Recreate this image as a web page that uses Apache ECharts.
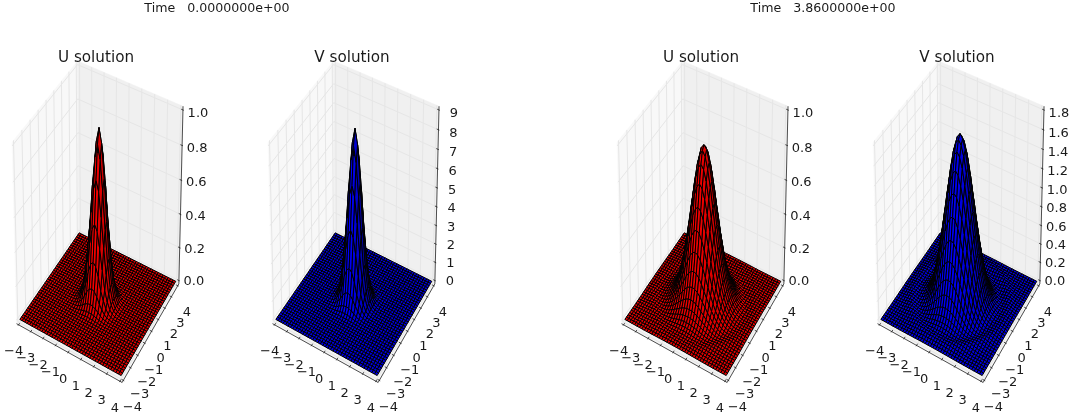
<!DOCTYPE html>
<html><head><meta charset="utf-8">
<style>html,body{margin:0;padding:0;background:#fff}#c{width:1072px;height:417px;filter:blur(0.4px)}</style>
<script src="https://cdn.jsdelivr.net/npm/echarts@6/dist/echarts.min.js"></script>
</head><body><div id="c"></div>
<script>
// ---- data ----
const timeLabels = ['Time   0.0000000e+00', 'Time   3.8600000e+00'];
const titles = ['U solution', 'V solution', 'U solution', 'V solution'];
const xyTicks = [-4, -3, -2, -1, 0, 1, 2, 3, 4];
const xyTickLabels = ['\u22124', '\u22123', '\u22122', '\u22121', '0', '1', '2', '3', '4'];
const uTicks = [0, 0.2, 0.4, 0.6, 0.8, 1.0];
const uTickLabels = ['0.0', '0.2', '0.4', '0.6', '0.8', '1.0'];
const v0Ticks = [0, 1, 2, 3, 4, 5, 6, 7, 8, 9];
const v0TickLabels = ['0', '1', '2', '3', '4', '5', '6', '7', '8', '9'];
const v1Ticks = [0, 0.2, 0.4, 0.6, 0.8, 1.0, 1.2, 1.4, 1.6, 1.8];
const v1TickLabels = ['0.0', '0.2', '0.4', '0.6', '0.8', '1.0', '1.2', '1.4', '1.6', '1.8'];
// surface height against distance from the centre, one sample each 0.2
const radiusStep = 0.2;
const u0Profile = [1.0, 0.92, 0.73, 0.49, 0.28, 0.135, 0.056, 0.02, 0.006, 0.001, 0];
const v0Profile = [8.96, 8.2, 6.3, 4.1, 2.2, 1.0, 0.38, 0.12, 0.03, 0.005, 0];
const u1Axis = [0.905, 0.885, 0.82, 0.72, 0.6, 0.48, 0.365, 0.265, 0.185, 0.125, 0.08, 0.05, 0.03, 0.016, 0.008, 0.004, 0.003, 0.004, 0.005, 0.004, 0.003, 0.002, 0.001, 0];
const u1Diag = [0.905, 0.885, 0.82, 0.72, 0.6, 0.48, 0.365, 0.265, 0.185, 0.125, 0.08, 0.048, 0.026, 0.012, 0.004, 0.001, 0.003, 0.006, 0.007, 0.005, 0.003, 0.002, 0.001, 0];
const v1Axis = [1.74, 1.7, 1.6, 1.43, 1.22, 1.0, 0.78, 0.58, 0.41, 0.27, 0.16, 0.09, 0.05, 0.03, 0.015, 0.012, 0.018, 0.02, 0.015, 0.008, 0.004, 0.002, 0.001, 0];
const v1Diag = [1.74, 1.7, 1.6, 1.43, 1.22, 1.0, 0.78, 0.58, 0.41, 0.27, 0.155, 0.085, 0.04, 0.015, 0.004, 0.006, 0.02, 0.028, 0.022, 0.012, 0.006, 0.003, 0.001, 0];

// ---- panels ----
const panels = [
  { cx: 99,  color: [255, 0, 0], axis: u0Profile, diag: u0Profile, zMax: 1, ticks: uTicks, labels: uTickLabels, titleX: 96 },
  { cx: 355, color: [0, 0, 255], axis: v0Profile, diag: v0Profile, zMax: 9, ticks: v0Ticks, labels: v0TickLabels, titleX: 352 },
  { cx: 704, color: [255, 0, 0], axis: u1Axis, diag: u1Diag, zMax: 1, ticks: uTicks, labels: uTickLabels, titleX: 701 },
  { cx: 960, color: [0, 0, 255], axis: v1Axis, diag: v1Diag, zMax: 1.8, ticks: v1Ticks, labels: v1TickLabels, titleX: 957 }
];
const scaleX = 1170, scaleY = 1990, centreY = 216, halfX = 0.08, halfY = 0.09;
const cells = 40, span = 8;
const FONT = '"DejaVu Sans"', INK = '#1a1a1a';

// view camera: elevation 30, azimuth -60, distance 10
const camU = [0.866, 0.5, 0], camV = [-0.25, 0.433, 0.866], camN = [0.433, -0.75, 0.5];
const dot = (a, b) => a[0] * b[0] + a[1] * b[1] + a[2] * b[2];
function depth(p) { return 10 - dot(camN, [p[0] - 0.5, p[1] - 0.5, p[2] - 0.5]); }
function project(p) {
  const q = [p[0] - 0.5, p[1] - 0.5, p[2] - 0.5], d = depth(p);
  return [dot(camU, q) / d, dot(camV, q) / d];
}
function lookup(arr, r) {
  const t = r / radiusStep, k = Math.floor(t);
  if (k >= arr.length - 1) return arr[arr.length - 1];
  return arr[k] + (arr[k + 1] - arr[k]) * (t - k);
}
function heightAt(pn, X, Y) {
  const r = Math.hypot(X, Y);
  const s = r === 0 ? 0 : 2 * X * Y / (r * r);
  const w = s * s;
  return lookup(pn.axis, r) * (1 - w) + lookup(pn.diag, r) * w;
}
panels.forEach(pn => {
  pn.h = [];
  for (let i = 0; i <= cells; i++) {
    pn.h.push([]);
    for (let j = 0; j <= cells; j++) {
      pn.h[i].push(heightAt(pn, -4 + span * i / cells, -4 + span * j / cells));
    }
  }
});
function vertex(pn, i, j) { return [i / cells, j / cells, pn.h[i][j] / pn.zMax]; }
function cellData(pn) {
  const out = [];
  for (let i = 0; i < cells; i++) for (let j = 0; j < cells; j++) {
    const m = [(i + 0.5) / cells, (j + 0.5) / cells,
      (pn.h[i][j] + pn.h[i + 1][j] + pn.h[i][j + 1] + pn.h[i + 1][j + 1]) / 4 / pn.zMax];
    const q = project(m);
    out.push({ value: [q[0], q[1], i, j], d: depth(m) });
  }
  out.sort((a, b) => b.d - a.d);
  return out.map(o => o.value);
}
const LIGHT = [-1 / 1.5, -1 / 1.5, 0.5 / 1.5];
function shadeOf(pn, i, j) {
  const h = pn.h, dx = span / cells;
  const gx = (h[i + 1][j] + h[i + 1][j + 1] - h[i][j] - h[i][j + 1]) / (2 * dx);
  const gy = (h[i][j + 1] + h[i + 1][j + 1] - h[i][j] - h[i + 1][j]) / (2 * dx);
  const len = Math.sqrt(gx * gx + gy * gy + 1);
  const s = dot([-gx / len, -gy / len, 1 / len], LIGHT);
  return 0.5 + 0.5 * (s + 1) / 2 + 0.05;
}
function surfaceRender(pn) {
  return function (params, api) {
    const i = api.value(2), j = api.value(3);
    const pts = [vertex(pn, i, j), vertex(pn, i + 1, j), vertex(pn, i + 1, j + 1), vertex(pn, i, j + 1)]
      .map(p => api.coord(project(p)));
    const f = Math.min(1, shadeOf(pn, i, j));
    const c = pn.color.map(v => Math.round(v * f));
    return {
      type: 'polygon', silent: true, shape: { points: pts },
      style: { fill: 'rgb(' + c.join(',') + ')', stroke: '#000', lineWidth: 1 }
    };
  };
}
const lo = -1 / 48, hi = 1 + 1 / 48, tickOut = 1 / 120, tickIn = 1 / 60;
const xyn = v => (v + 4) / span;
function frameRender(pn) {
  return function (params, api) {
    const P = p => api.coord(project(p));
    const kids = [];
    const poly = (pts, fill) => kids.push({ type: 'polygon', silent: true, shape: { points: pts.map(P) }, style: { fill: fill, stroke: fill, lineWidth: 0.5 } });
    const line = (a, b, color, w) => {
      const A = P(a), B = P(b);
      kids.push({ type: 'line', silent: true, shape: { x1: A[0], y1: A[1], x2: B[0], y2: B[1] }, style: { stroke: color, lineWidth: w } });
    };
    const text = (a, dx, dy, s) => {
      const A = P(a);
      kids.push({ type: 'text', silent: true, style: { text: s, x: A[0] + dx, y: A[1] + dy, align: 'center', verticalAlign: 'middle', fontSize: 13, fontFamily: FONT, fill: INK } });
    };
    poly([[lo, lo, lo], [lo, hi, lo], [lo, hi, hi], [lo, lo, hi]], '#f8f8f8');
    poly([[lo, hi, lo], [hi, hi, lo], [hi, hi, hi], [lo, hi, hi]], '#f0f0f0');
    poly([[lo, lo, lo], [hi, lo, lo], [hi, hi, lo], [lo, hi, lo]], '#f3f3f3');
    const grid = '#e6e6e6';
    xyTicks.forEach(t => {
      const n = xyn(t);
      line([n, lo, lo], [n, hi, lo], grid, 1);
      line([n, hi, lo], [n, hi, hi], grid, 1);
      line([lo, n, lo], [hi, n, lo], grid, 1);
      line([lo, n, lo], [lo, n, hi], grid, 1);
    });
    pn.ticks.forEach(t => {
      const n = t / pn.zMax;
      line([hi, hi, n], [lo, hi, n], grid, 1);
      line([lo, hi, n], [lo, lo, n], grid, 1);
    });
    line([lo, lo, lo], [hi, lo, lo], '#222', 0.8);
    line([hi, lo, lo], [hi, hi, lo], '#222', 0.8);
    line([hi, hi, lo], [hi, hi, hi], '#222', 0.8);
    xyTicks.forEach((t, k) => {
      const n = xyn(t);
      line([n, lo - tickOut, lo], [n, lo + tickIn, lo], '#222', 0.8);
      line([hi + tickOut, n, lo], [hi - tickIn, n, lo], '#222', 0.8);
      text([n, lo, lo], -5, 27, xyTickLabels[k]);
      text([hi, n, lo], 9, 27, xyTickLabels[k]);
    });
    pn.ticks.forEach((t, k) => {
      const n = t / pn.zMax;
      line([hi + tickOut, hi, n], [hi - tickIn, hi, n], '#222', 0.8);
      text([hi, hi, n], 15, 1 + 3 * n, pn.labels[k]);
    });
    return { type: 'group', silent: true, children: kids };
  };
}
const option = {
  animation: false,
  title: [
    { text: timeLabels[0], left: 217, top: 2, padding: 0, textAlign: 'center', textStyle: { fontFamily: FONT, fontSize: 12.6, fontWeight: 'normal', color: INK } },
    { text: timeLabels[1], left: 823, top: 2, padding: 0, textAlign: 'center', textStyle: { fontFamily: FONT, fontSize: 12.6, fontWeight: 'normal', color: INK } }
  ].concat(panels.map((pn, k) => ({
    text: titles[k], left: pn.titleX, top: 51, padding: 0, textAlign: 'center',
    textStyle: { fontFamily: FONT, fontSize: 15.2, fontWeight: 'normal', color: INK }
  }))),
  grid: panels.map(pn => ({
    left: pn.cx - halfX * scaleX, width: 2 * halfX * scaleX,
    top: centreY - halfY * scaleY, height: 2 * halfY * scaleY, containLabel: false
  })),
  xAxis: panels.map((pn, k) => ({ type: 'value', gridIndex: k, min: -halfX, max: halfX, show: false })),
  yAxis: panels.map((pn, k) => ({ type: 'value', gridIndex: k, min: -halfY, max: halfY, show: false })),
  series: []
};
panels.forEach((pn, k) => {
  option.series.push({
    type: 'custom', xAxisIndex: k, yAxisIndex: k, silent: true, z: 1, clip: false,
    coordinateSystem: 'cartesian2d', data: [[0, 0]], encode: { x: 0, y: 1 }, renderItem: frameRender(pn)
  });
  option.series.push({
    type: 'custom', xAxisIndex: k, yAxisIndex: k, silent: true, z: 2, clip: false, progressive: 0,
    coordinateSystem: 'cartesian2d', data: cellData(pn), encode: { x: 0, y: 1 }, renderItem: surfaceRender(pn)
  });
});
echarts.init(document.getElementById('c'), null, { renderer: 'canvas' }).setOption(option);
</script></body></html>
